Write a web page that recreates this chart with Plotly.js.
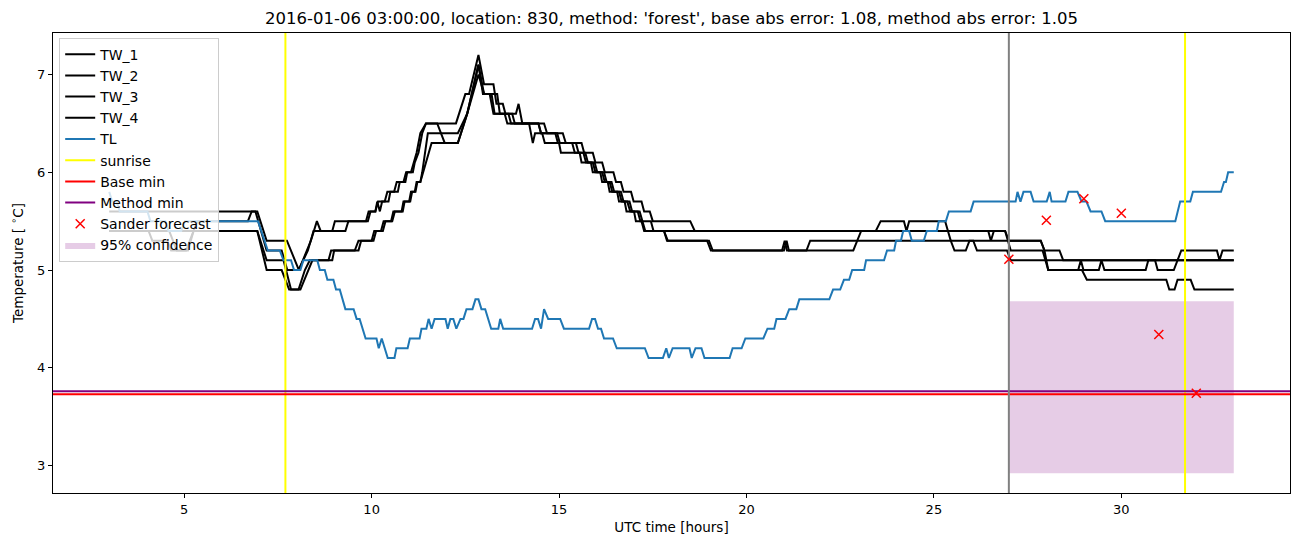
<!DOCTYPE html>
<html><head><meta charset="utf-8">
<script src="https://cdn.plot.ly/plotly-3.0.1.min.js"></script>
<style>html,body{margin:0;padding:0;background:#fff}#chart{width:1302px;height:547px}</style>
</head><body><div id="chart"></div>
<script>
// [UTC hour, temperature] breakpoints
const TW_1 = [[3,5.6],[6.95,5.6],[7.2,5.3],[7.74,5.3],[8.06,5.0],[8.38,5.3],[8.54,5.5],[8.64,5.4],[8.95,5.4],[9.02,5.5],[9.9,5.5],[9.97,5.6],[10.1,5.6],[10.17,5.7],[10.35,5.7],[10.42,5.8],[10.6,5.8],[10.67,5.9],[10.85,5.9],[10.92,6.0],[11.05,6.0],[11.12,6.1],[11.2,6.2],[11.3,6.4],[11.45,6.5],[12.25,6.5],[12.5,6.8],[12.6,6.8],[12.85,7.2],[13.0,6.9],[13.25,6.9],[13.33,6.7],[13.5,6.7],[13.57,6.6],[13.85,6.6],[13.92,6.7],[14.02,6.5],[14.6,6.5],[14.68,6.4],[15.1,6.4],[15.18,6.3],[15.6,6.3],[15.67,6.2],[15.9,6.2],[15.97,6.1],[16.15,6.1],[16.22,6.0],[16.45,6.0],[16.52,5.9],[16.65,5.9],[16.72,5.8],[16.92,5.8],[16.99,5.7],[17.2,5.7],[17.27,5.6],[17.42,5.6],[17.5,5.5],[18.5,5.5],[18.62,5.4],[23.45,5.4],[23.58,5.5],[24.2,5.5],[24.27,5.4],[24.34,5.5],[25.3,5.5],[25.45,5.3],[27.85,5.3],[27.95,5.2],[28.35,5.2],[28.45,5.1],[33,5.1]];
const TW_2 = [[3,5.4],[4.05,5.4],[4.15,5.3],[4.55,5.3],[4.65,5.2],[5.05,5.2],[5.15,5.3],[5.25,5.4],[5.35,5.5],[6.7,5.5],[6.8,5.6],[6.9,5.6],[7.2,5.2],[7.6,5.2],[7.75,5.0],[8.05,5.0],[8.3,5.2],[8.45,5.4],[9.3,5.4],[9.38,5.5],[9.85,5.5],[9.92,5.6],[10.1,5.6],[10.15,5.7],[10.22,5.6],[10.28,5.7],[10.45,5.7],[10.5,5.8],[10.7,5.8],[10.75,5.9],[10.9,5.9],[10.95,6.0],[11.1,6.0],[11.15,6.1],[11.25,6.2],[11.35,6.4],[11.45,6.5],[11.75,6.5],[11.95,6.3],[12.3,6.3],[12.55,6.6],[12.85,7.1],[12.97,6.8],[13.2,6.8],[13.28,6.6],[13.55,6.6],[13.62,6.5],[14.45,6.5],[14.52,6.4],[14.95,6.4],[15.02,6.3],[15.45,6.3],[15.52,6.2],[15.7,6.2],[15.77,6.1],[15.95,6.1],[16.02,6.0],[16.2,6.0],[16.27,5.9],[16.4,5.9],[16.47,5.8],[16.65,5.8],[16.72,5.7],[16.88,5.7],[16.95,5.6],[17.15,5.6],[17.22,5.5],[17.3,5.4],[26.45,5.4],[26.52,5.3],[26.6,5.4],[26.9,5.4],[27.0,5.3],[27.85,5.3],[27.95,5.2],[28.05,5.0],[28.95,5.0],[29.08,4.9],[31.2,4.9],[31.28,4.8],[31.42,4.8],[31.5,4.9],[31.85,4.9],[31.95,4.8],[33,4.8]];
const TW_3 = [[3,5.4],[4.6,5.4],[4.7,5.3],[4.8,5.2],[5.1,5.2],[5.25,5.4],[6.95,5.4],[7.2,5.0],[7.6,5.0],[7.8,4.8],[8.1,4.8],[8.3,5.0],[8.42,5.1],[8.85,5.1],[8.92,5.2],[9.55,5.2],[9.65,5.3],[10.0,5.3],[10.07,5.4],[10.25,5.4],[10.32,5.5],[10.52,5.5],[10.58,5.6],[10.8,5.6],[10.85,5.7],[11.0,5.7],[11.05,5.8],[11.15,5.8],[11.2,5.9],[11.3,5.9],[11.6,6.3],[12.3,6.3],[12.55,6.6],[12.85,7.1],[13.0,6.8],[13.15,6.8],[13.25,6.6],[13.65,6.6],[13.72,6.5],[14.2,6.5],[14.25,6.4],[14.3,6.3],[14.36,6.4],[14.55,6.4],[14.62,6.3],[15.0,6.3],[15.05,6.2],[15.55,6.2],[15.6,6.1],[15.85,6.1],[15.9,6.0],[16.1,6.0],[16.15,5.9],[16.3,5.9],[16.35,5.8],[16.55,5.8],[16.6,5.7],[16.75,5.7],[16.8,5.6],[17.0,5.6],[17.05,5.5],[17.2,5.5],[17.27,5.4],[17.8,5.4],[17.9,5.3],[18.95,5.3],[19.05,5.2],[20.95,5.2],[21.02,5.3],[21.08,5.2],[21.6,5.2],[21.7,5.3],[25.45,5.3],[25.55,5.2],[25.85,5.2],[25.95,5.3],[26.05,5.3],[26.15,5.2],[26.95,5.2],[27.05,5.1],[33,5.1]];
const TW_4 = [[3,5.4],[6.95,5.4],[7.2,5.1],[7.65,5.1],[7.85,4.8],[8.05,4.8],[8.22,5.0],[8.35,5.1],[8.95,5.1],[9.0,5.2],[9.65,5.2],[9.72,5.3],[10.05,5.3],[10.12,5.4],[10.3,5.4],[10.37,5.5],[10.55,5.5],[10.62,5.6],[10.83,5.6],[10.88,5.7],[11.03,5.7],[11.08,5.8],[11.17,5.8],[11.22,5.9],[11.3,5.9],[11.35,6.0],[11.5,6.4],[12.3,6.4],[12.55,6.6],[12.85,7.0],[13.0,6.8],[13.35,6.8],[13.42,6.6],[13.75,6.6],[13.82,6.5],[14.45,6.5],[14.52,6.4],[14.9,6.4],[14.97,6.3],[15.35,6.3],[15.42,6.2],[15.65,6.2],[15.72,6.1],[15.9,6.1],[15.97,6.0],[16.15,6.0],[16.22,5.9],[16.35,5.9],[16.42,5.8],[16.6,5.8],[16.67,5.7],[16.82,5.7],[16.9,5.6],[17.1,5.6],[17.17,5.5],[17.45,5.5],[17.52,5.4],[17.8,5.4],[17.88,5.3],[19.0,5.3],[19.1,5.2],[21.0,5.2],[21.07,5.3],[21.13,5.2],[22.85,5.2],[22.95,5.3],[23.06,5.4],[26.9,5.4],[27.05,5.2],[27.9,5.2],[28.05,5.0],[28.85,5.0],[28.92,5.1],[28.99,5.0],[29.4,5.0],[29.47,5.1],[29.55,5.0],[30.65,5.0],[30.72,5.1],[30.9,5.1],[30.97,5.0],[31.4,5.0],[31.6,5.2],[32.55,5.2],[32.62,5.1],[32.7,5.2],[33,5.2]];
const TL = [[3,5.8],[3.08,5.7],[3.2,5.7],[3.28,5.6],[4.02,5.6],[4.1,5.5],[4.5,5.5],[4.58,5.4],[4.92,5.4],[5.02,5.5],[6.97,5.5],[7.23,5.2],[7.55,5.2],[7.65,5.1],[7.85,5.1],[7.93,5.0],[8.1,5.0],[8.18,5.1],[8.55,5.1],[8.62,5.0],[8.75,5.0],[8.82,4.9],[8.98,4.9],[9.05,4.8],[9.15,4.8],[9.23,4.7],[9.3,4.6],[9.52,4.6],[9.6,4.5],[9.68,4.5],[9.76,4.4],[9.84,4.3],[10.13,4.3],[10.19,4.2],[10.27,4.3],[10.43,4.1],[10.61,4.1],[10.66,4.2],[10.96,4.2],[11.02,4.3],[11.28,4.3],[11.33,4.4],[11.46,4.4],[11.52,4.5],[11.6,4.4],[11.68,4.5],[11.97,4.5],[12.03,4.4],[12.1,4.5],[12.18,4.5],[12.26,4.4],[12.37,4.5],[12.45,4.5],[12.53,4.6],[12.69,4.6],[12.77,4.7],[12.85,4.7],[12.93,4.6],[13.03,4.6],[13.19,4.4],[13.38,4.4],[13.43,4.5],[13.51,4.4],[14.28,4.4],[14.36,4.5],[14.44,4.5],[14.52,4.4],[14.6,4.6],[14.71,4.5],[15.03,4.5],[15.13,4.4],[15.8,4.4],[15.88,4.5],[15.96,4.5],[16.04,4.4],[16.12,4.4],[16.2,4.3],[16.44,4.3],[16.54,4.2],[17.29,4.2],[17.39,4.1],[17.77,4.1],[17.86,4.2],[17.93,4.1],[18.03,4.2],[18.48,4.2],[18.54,4.1],[18.64,4.2],[18.8,4.2],[18.88,4.1],[19.55,4.1],[19.63,4.2],[19.87,4.2],[19.97,4.3],[20.45,4.3],[20.56,4.4],[20.74,4.4],[20.8,4.5],[21.04,4.5],[21.14,4.6],[21.33,4.6],[21.41,4.7],[22.21,4.7],[22.31,4.8],[22.5,4.8],[22.6,4.9],[22.74,4.9],[22.82,5.0],[23.14,5.0],[23.19,5.1],[23.67,5.1],[23.75,5.2],[23.94,5.2],[23.99,5.3],[24.12,5.3],[24.18,5.4],[24.34,5.4],[24.41,5.3],[24.73,5.3],[24.81,5.4],[25.08,5.4],[25.13,5.5],[25.32,5.5],[25.4,5.6],[25.98,5.6],[26.06,5.7],[27.18,5.7],[27.23,5.8],[27.31,5.7],[27.39,5.8],[27.58,5.8],[27.66,5.7],[28.01,5.7],[28.09,5.8],[28.14,5.7],[28.51,5.7],[28.59,5.8],[28.83,5.8],[28.94,5.7],[29.07,5.7],[29.18,5.6],[29.47,5.6],[29.57,5.5],[31.44,5.5],[31.57,5.7],[31.84,5.7],[31.91,5.8],[32.66,5.8],[32.74,5.9],[32.79,5.9],[32.85,6.0],[33.0,6.0]];

const sunriseHours = [7.7, 31.7];
const forecastStart = 27;
const baseMin = 3.73;
const methodMin = 3.76;
const forecastHours = [27, 28, 29, 30, 31, 32];
const forecastValues = [5.11, 5.51, 5.73, 5.58, 4.34, 3.74];
const confHours = [27, 33];
const confLower = 2.92;
const confUpper = 4.68;

const xRange = [1.5, 34.5];
const yRange = [2.719, 7.425];
const xTicks = [5, 10, 15, 20, 25, 30];
const yTicks = [3, 4, 5, 6, 7];

const FONT = 'DejaVu Sans, sans-serif';
const traces = [];

// confidence band (drawn first, under lines; listed last in legend)
traces.push({
  x: [confHours[0], confHours[1], confHours[1], confHours[0], confHours[0]],
  y: [confLower, confLower, confUpper, confUpper, confLower],
  type: 'scatter', mode: 'lines', fill: 'toself',
  fillcolor: 'rgba(128,0,128,0.2)', line: {width: 0, color: 'rgba(0,0,0,0)'},
  name: '95% confidence', legendrank: 10, hoverinfo: 'skip'
});

function series(pairs, name, color, rank) {
  return {x: pairs.map(p => p[0]), y: pairs.map(p => p[1]), type: 'scatter', mode: 'lines',
          line: {color: color, width: 2}, name: name, legendrank: rank};
}
traces.push(series(TW_1, 'TW_1', 'black', 1));
traces.push(series(TW_2, 'TW_2', 'black', 2));
traces.push(series(TW_3, 'TW_3', 'black', 3));
traces.push(series(TW_4, 'TW_4', 'black', 4));
traces.push(series(TL, 'TL', '#1f77b4', 5));

sunriseHours.forEach((h, i) => traces.push({
  x: [h, h], y: yRange, type: 'scatter', mode: 'lines', line: {color: 'yellow', width: 2},
  name: 'sunrise', showlegend: i === 0, legendrank: 6
}));
traces.push({x: xRange, y: [baseMin, baseMin], type: 'scatter', mode: 'lines',
  line: {color: 'red', width: 2}, name: 'Base min', legendrank: 7});
traces.push({x: xRange, y: [methodMin, methodMin], type: 'scatter', mode: 'lines',
  line: {color: 'purple', width: 2}, name: 'Method min', legendrank: 8});
traces.push({x: [forecastStart, forecastStart], y: yRange, type: 'scatter', mode: 'lines',
  line: {color: 'gray', width: 2}, showlegend: false, name: 'forecast start'});
traces.push({x: forecastHours, y: forecastValues, type: 'scatter', mode: 'markers',
  marker: {symbol: 'x-thin', size: 9, line: {color: 'red', width: 1.5}, color: 'red'},
  name: 'Sander forecast', legendrank: 9});

const layout = {
  width: 1302, height: 547,
  margin: {l: 53, r: 12, t: 33, b: 54},
  paper_bgcolor: 'white', plot_bgcolor: 'white',
  font: {family: FONT, size: 13.5, color: 'black'},
  title: {text: "2016-01-06 03:00:00, location: 830, method: 'forest', base abs error: 1.08, method abs error: 1.05",
          font: {family: FONT, size: 16.5, color: 'black'}, xref: 'paper', x: 0.5, xanchor: 'center',
          yref: 'container', y: 1 - 18/547, yanchor: 'middle'},
  xaxis: {range: xRange, tickvals: xTicks, ticktext: xTicks.map(String), ticks: 'outside', ticklen: 4, tickwidth: 1,
          tickcolor: 'black', showline: true, linecolor: 'black', linewidth: 1, mirror: true,
          showgrid: false, zeroline: false, tickfont: {size: 13},
          title: {text: 'UTC time [hours]', font: {size: 13.5}, standoff: 6}},
  yaxis: {range: yRange, tickvals: yTicks, ticktext: yTicks.map(String), ticks: 'outside', ticklen: 4, tickwidth: 1,
          tickcolor: 'black', showline: true, linecolor: 'black', linewidth: 1, mirror: true,
          showgrid: false, zeroline: false, tickfont: {size: 13},
          title: {text: 'Temperature [ <sup>∘</sup>C]', font: {size: 13.5}, standoff: 10}},
  legend: {x: 0.005, y: 0.99, xanchor: 'left', yanchor: 'top', bgcolor: 'rgba(255,255,255,0.8)',
           bordercolor: '#cccccc', borderwidth: 1, font: {size: 14}, traceorder: 'normal',
           itemwidth: 30, tracegroupgap: 0},
  showlegend: true
};
Plotly.newPlot('chart', traces, layout, {displayModeBar: false, staticPlot: true});
</script>
</body></html>
